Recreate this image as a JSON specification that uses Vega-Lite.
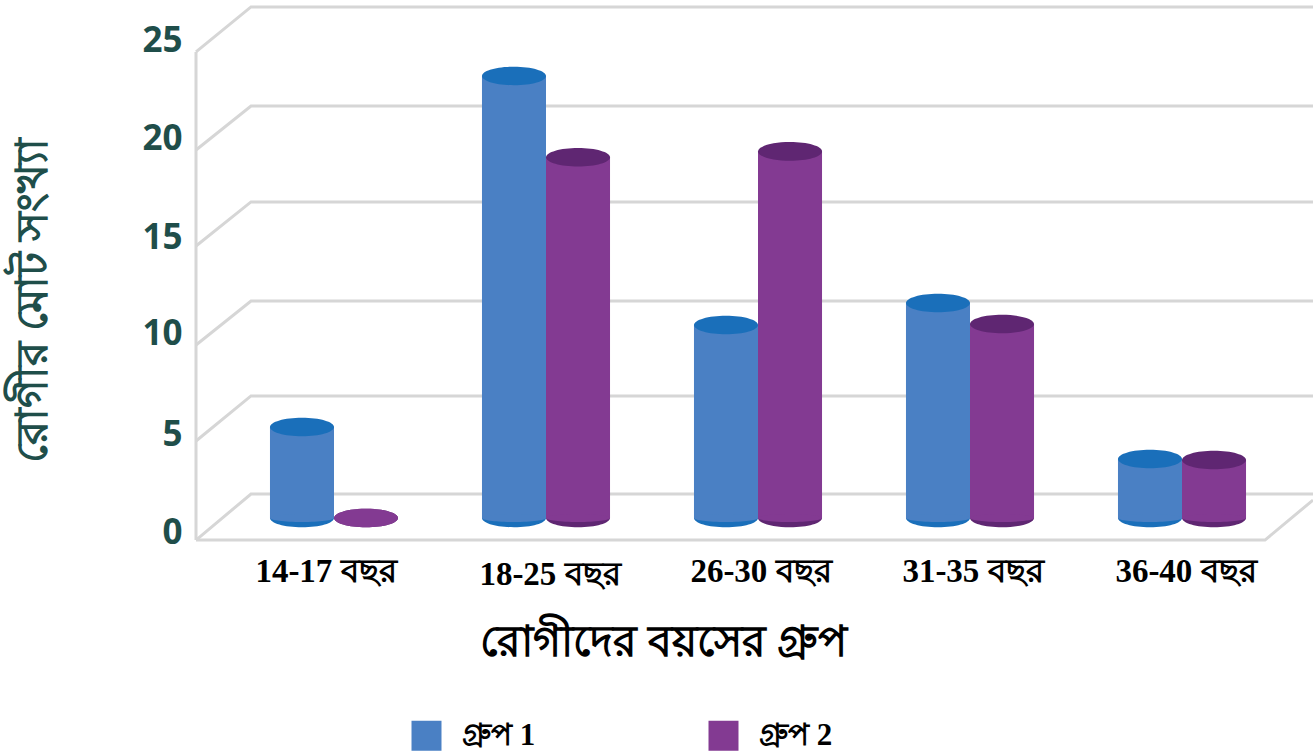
{
"$schema":"https://vega.github.io/schema/vega-lite/v6.json",
"width":1313,"height":751,"padding":0,"autosize":{"type":"none"},"background":"white",
"datasets":{
"bars":[
{"age":"14-17 বছর","group":"গ্রুপ 1","value":4.67},
{"age":"14-17 বছর","group":"গ্রুপ 2","value":0},
{"age":"18-25 বছর","group":"গ্রুপ 1","value":22.67},
{"age":"18-25 বছর","group":"গ্রুপ 2","value":18.5},
{"age":"26-30 বছর","group":"গ্রুপ 1","value":9.9},
{"age":"26-30 বছর","group":"গ্রুপ 2","value":18.8},
{"age":"31-35 বছর","group":"গ্রুপ 1","value":11.03},
{"age":"31-35 বছর","group":"গ্রুপ 2","value":9.95},
{"age":"36-40 বছর","group":"গ্রুপ 1","value":3.03},
{"age":"36-40 বছর","group":"গ্রুপ 2","value":2.97}],
"walls":[
{"line":"g0","seq":0,"across":196,"level":-1.13},{"line":"g0","seq":1,"across":251,"level":1.23},{"line":"g0","seq":2,"across":1313,"level":1.23},
{"line":"g5","seq":0,"across":196,"level":3.95},{"line":"g5","seq":1,"across":251,"level":6.26},{"line":"g5","seq":2,"across":1313,"level":6.26},
{"line":"g10","seq":0,"across":196,"level":8.87},{"line":"g10","seq":1,"across":251,"level":11.13},{"line":"g10","seq":2,"across":1313,"level":11.13},
{"line":"g15","seq":0,"across":196,"level":13.95},{"line":"g15","seq":1,"across":251,"level":16.21},{"line":"g15","seq":2,"across":1313,"level":16.21},
{"line":"g20","seq":0,"across":196,"level":18.87},{"line":"g20","seq":1,"across":251,"level":21.13},{"line":"g20","seq":2,"across":1313,"level":21.13},
{"line":"g25","seq":0,"across":196,"level":23.9},{"line":"g25","seq":1,"across":251,"level":26.21},{"line":"g25","seq":2,"across":1313,"level":26.21},
{"line":"floor","seq":0,"across":196,"level":-1.13},{"line":"floor","seq":1,"across":1265,"level":-1.13},{"line":"floor","seq":2,"across":1313,"level":0.92},
{"line":"edge","seq":0,"across":196,"level":-1.13},{"line":"edge","seq":1,"across":196,"level":23.9}]
},
"layer":[
{"data":{"name":"walls"},
 "mark":{"type":"line","color":"#d6d6d6","strokeWidth":3},
 "encoding":{
  "x":{"field":"across","type":"quantitative","scale":{"domain":[0,1313],"range":[0,1313]},"axis":null},
  "y":{"field":"level","type":"quantitative","scale":{"domain":[0,25],"range":[518,30.5],"nice":false,"zero":false},
   "axis":{"values":[0,5,10,15,20,25],"grid":false,"domain":false,"ticks":false,"offset":-182,"labelPadding":0,
    "labelOffset":{"condition":[{"test":"datum.value<=5","value":14},{"test":"datum.value===15","value":12}],"value":10},
    "labelFont":"Open Sans","labelFontWeight":"bold","labelFontSize":35,"labelColor":"#1f4e4a",
    "title":"রোগীর মোট সংখ্যা","titleFont":"Liberation Serif","titleFontWeight":"bold","titleFontSize":43.5,"titleColor":"#1f4e4a","titleX":-127,"titleY":300,"titleAngle":-90}},
  "detail":{"field":"line"},
  "order":{"field":"seq"}}},
{"data":{"name":"bars"},
 "layer":[
 {"mark":{"type":"point","shape":"M-1,0A1,0.29 0 1 0 1,0A1,0.29 0 1 0 -1,0Z","filled":true,"opacity":1,"size":4096},
  "encoding":{
   "y":{"datum":0,"type":"quantitative"},
   "fill":{"field":"group","type":"nominal","scale":{"domain":["গ্রুপ 2","গ্রুপ 1"],"range":["#5f2672","#1a6fba"]},"legend":null}}},
 {"mark":{"type":"bar"},
  "encoding":{
   "y":{"field":"value","type":"quantitative"},
   "y2":{"datum":0},
   "color":{"field":"group","type":"nominal","scale":{"domain":["গ্রুপ 1","গ্রুপ 2"],"range":["#4a80c4","#833a92"]},
    "legend":{"title":null,"orient":"none","legendX":411,"legendY":720,"direction":"horizontal","symbolType":"square","symbolSize":900,"symbolOpacity":1,"symbolStrokeWidth":0,"labelFont":"Liberation Serif","labelFontWeight":"bold","labelFontSize":31,"labelColor":"#000000","labelOffset":20,"columnPadding":172,"labelLimit":200}}}},
 {"mark":{"type":"point","shape":"M-1,0A1,0.125 0 1 0 1,0A1,0.125 0 1 0 -1,0Z","filled":true,"opacity":1,"size":4096},
  "transform":[{"filter":"datum.value>0"}],
  "encoding":{
   "y":{"datum":0,"type":"quantitative"},
   "color":{"field":"group","type":"nominal"}}},
 {"mark":{"type":"point","shape":"M-1,0A1,0.29 0 1 0 1,0A1,0.29 0 1 0 -1,0Z","filled":true,"opacity":1,"size":4096},
  "encoding":{
   "y":{"field":"value","type":"quantitative"},
   "fill":{"condition":{"test":"datum.value===0","value":"#833a92"},"field":"group","type":"nominal","legend":null}}}
 ],
 "encoding":{
  "x":{"field":"age","type":"nominal","sort":null,
   "scale":{"range":[228,1288],"paddingInner":0.396,"paddingOuter":0.198},
   "axis":{"labelAngle":0,"domain":false,"ticks":false,"grid":false,"offset":-196,
    "labelPadding":{"condition":{"test":"datum.value==='18-25 বছর'","value":3},"value":0},
    "labelOffset":{"condition":[{"test":"datum.value==='14-17 বছর'","value":-8},{"test":"datum.value==='18-25 বছর'","value":4},{"test":"datum.value==='26-30 বছর'","value":3},{"test":"datum.value==='31-35 বছর'","value":3},{"test":"datum.value==='36-40 বছর'","value":4}],"value":0},
    "labelFont":"Liberation Serif","labelFontWeight":"bold","labelFontSize":33,"labelColor":"#000000",
    "title":"রোগীদের বয়সের গ্রুপ","titleFont":"Liberation Serif","titleFontWeight":"bold","titleFontSize":43,"titleColor":"#000000","titleX":663,"titleY":66}},
  "xOffset":{"field":"group","type":"nominal","scale":{"paddingInner":0,"paddingOuter":0}}}
}
],
"resolve":{"scale":{"x":"independent"},"axis":{"x":"independent"}},
"config":{"view":{"stroke":null}}
}
